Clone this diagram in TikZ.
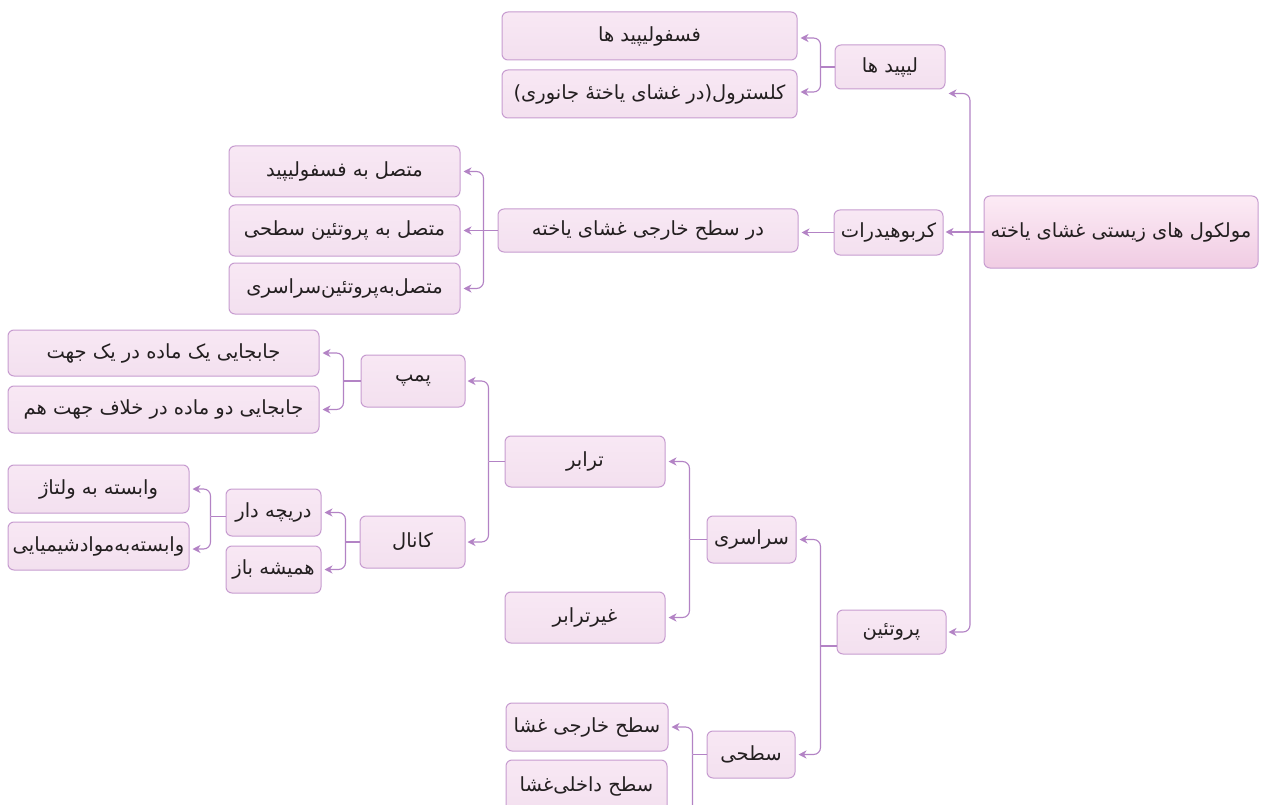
\documentclass[tikz,border=0pt]{standalone}
\usepackage{fontspec}
\usetikzlibrary{arrows.meta,calc}
\TeXXeTstate=1
\newfontfamily\fa[Script=Arabic]{DejaVu Sans}
\definecolor{boxline}{HTML}{C79CD0}
\definecolor{linkcol}{HTML}{B383C5}
\definecolor{filltop}{HTML}{F8E8F4}
\definecolor{fillbot}{HTML}{F3E0EF}
\definecolor{roottop}{HTML}{FCEBF5}
\definecolor{rootbot}{HTML}{F0CCE3}
\definecolor{txt}{HTML}{231F20}
\tikzset{
  mybox/.style={draw=boxline, line width=1pt, rounded corners=6pt,
    top color=filltop, bottom color=fillbot, inner sep=0pt,
    text=txt, font=\fa\fontsize{19.5}{23}\selectfont},
  rootbox/.style={mybox, top color=roottop, bottom color=rootbot,
    font=\fa\fontsize{19.5}{23}\selectfont},
  conn/.style={draw=linkcol, line width=1.1pt},
  arr/.style={conn, rounded corners=7pt,
    -{Stealth[length=8pt,width=8pt,inset=2.5pt]}},
}
\newcommand\mkbox[7][mybox]{%
  \node[#1, minimum width={(#5-#3)*1pt}, minimum height={(#6-#4)*1pt}]
    (#2) at ({(#3+#5)/2},{(#4+#6)/2}) {\beginR #7\endR};}
\begin{document}
\begin{tikzpicture}[x=1pt,y=-1pt]
\useasboundingbox (0,0) rectangle (1261,805);
\fill[white] (0,0) rectangle (1261,805);

% nodes
\mkbox[rootbox]{root}{984}{196}{1258}{268}{\beginR مولکول های زیستی غشای یاخته\endR}
\mkbox{lip}{835}{45}{945}{89}{\beginR لیپید ها\endR}
\mkbox{fosf}{502}{12}{797}{60}{\beginR فسفولیپید ها\endR}
\mkbox{kol}{502}{70}{797}{118}{\beginR کلسترول(در غشای یاختهٔ جانوری)\endR}
\mkbox{carb}{834}{210}{943}{255}{کربوهیدرات}
\mkbox{dar}{498}{209}{798}{252}{\beginR در سطح خارجی غشای یاخته\endR}
\mkbox{m1}{229}{146}{460}{197}{\beginR متصل به فسفولیپید\endR}
\mkbox{m2}{229}{205}{460}{256}{\beginR متصل به پروتئین سطحی\endR}
\mkbox{m3}{229}{263}{460}{314}{متصل‌به‌پروتئین‌سراسری}
\mkbox{prot}{837}{610}{946}{654}{پروتئین}
\mkbox{sar}{707}{516}{796}{563}{سراسری}
\mkbox{sat}{707}{731}{795}{778}{سطحی}
\mkbox{tar}{505}{436}{665}{487}{ترابر}
\mkbox{gtar}{505}{592}{665}{643}{غیرترابر}
\mkbox{sk}{506}{703}{668}{751}{\beginR سطح خارجی غشا\endR}
\mkbox{sd}{506}{760}{667}{812}{\beginR سطح داخلی‌غشا\endR}
\mkbox{pmp}{361}{355}{465}{407}{پمپ}
\mkbox{kan}{360}{516}{465}{568}{کانال}
\mkbox{j1}{8}{330}{319}{376}{\beginR جابجایی یک ماده در یک جهت\endR}
\mkbox{j2}{8}{386}{319}{433}{\beginR جابجایی دو ماده در خلاف جهت هم\endR}
\mkbox{dri}{226}{489}{321}{536}{\beginR دریچه دار\endR}
\mkbox{ham}{226}{546}{321}{593}{\beginR همیشه باز\endR}
\mkbox{v1}{8}{465}{189}{513}{\beginR وابسته به ولتاژ\endR}
\mkbox{v2}{8}{522}{189}{570}{وابسته‌به‌موادشیمیایی}

% root connectors
\draw[arr] (root.west) -- ([xshift=2pt]carb.east |- root.west);
\coordinate (troot) at (970,232);
\draw[arr] (troot) |- ([xshift=3pt,yshift=-4pt]lip.south east);
\draw[arr] (troot) |- ([xshift=2pt]prot.east);

% lipids
\draw[conn] (lip.west) -- ++(-14,0) coordinate (tlip);
\draw[arr] (tlip) |- ([xshift=3pt,yshift=-2pt]fosf.east);
\draw[arr] (tlip) |- ([xshift=3pt,yshift=2pt]kol.east);

% carbohydrates
\draw[arr] (carb.west) -- ([xshift=3pt]dar.east |- carb.west);
\draw[conn] (dar.west) -- ++(-14,0) coordinate (tdar);
\draw[arr] (tdar) |- ([xshift=3pt]m1.east);
\draw[arr] (dar.west) -- ([xshift=3pt]m2.east |- dar.west);
\draw[arr] (tdar) |- ([xshift=3pt]m3.east);

% proteins
\draw[conn] ([yshift=-14pt]prot.west) -- ++(-16,0) coordinate (tprot);
\draw[arr] (tprot) |- ([xshift=3pt]sar.east);
\draw[arr] (tprot) |- ([xshift=3pt]sat.east);

\draw[conn] (sar.west) -- ++(-17,0) coordinate (tsar);
\draw[arr] (tsar) |- ([xshift=3pt]tar.east);
\draw[arr] (tsar) |- ([xshift=3pt]gtar.east);

\draw[conn] (sat.west) -- ++(-14,0) coordinate (tsat);
\draw[arr] (tsat) |- ([xshift=3pt]sk.east);
\draw[arr] (tsat) |- ([xshift=3pt,yshift=-29pt]sd.south east);

\draw[conn] (tar.west) -- ++(-16,0) coordinate (ttar);
\draw[arr] (ttar) |- ([xshift=2pt]pmp.east);
\draw[arr] (ttar) |- ([xshift=2pt]kan.east);

\draw[conn] (pmp.west) -- ++(-17,0) coordinate (tpmp);
\draw[arr] (tpmp) |- ([xshift=3pt]j1.east);
\draw[arr] (tpmp) |- ([xshift=3pt]j2.east);

\draw[conn] (kan.west) -- ++(-14,0) coordinate (tkan);
\draw[arr] (tkan) |- ([xshift=3pt]dri.east);
\draw[arr] (tkan) |- ([xshift=3pt]ham.east);

\draw[conn] ([yshift=-4pt]dri.west) -- ++(-15,0) coordinate (tdri);
\draw[arr] (tdri) |- ([xshift=3pt]v1.east);
\draw[arr] (tdri) |- ([xshift=3pt,yshift=-3pt]v2.east);
\end{tikzpicture}
\end{document}
